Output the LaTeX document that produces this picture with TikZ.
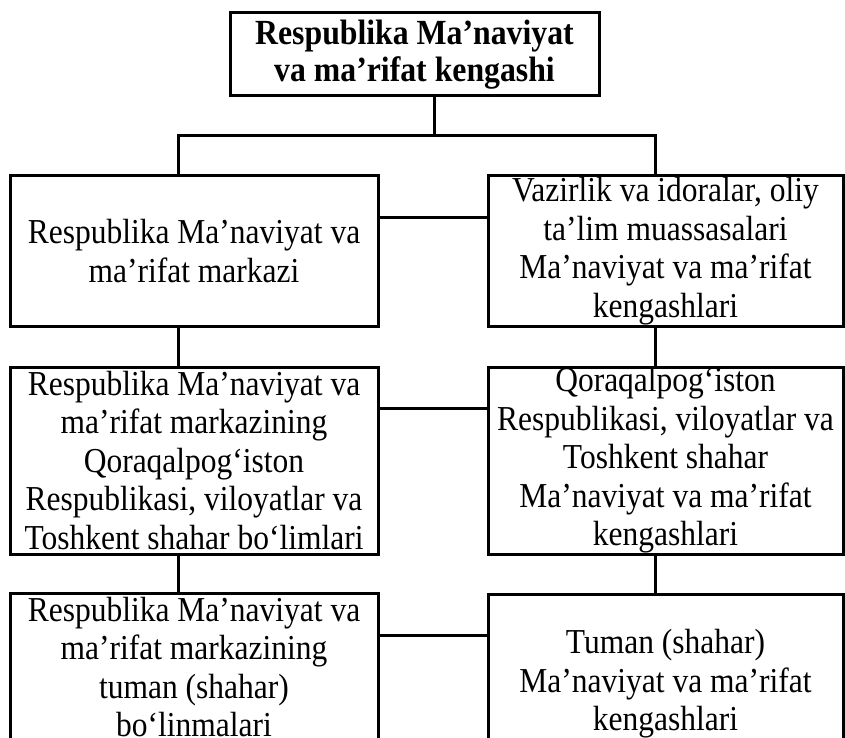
\documentclass[tikz,border=0pt]{standalone}
\usepackage{fontspec}
\setmainfont[FakeStretch=0.9]{Liberation Serif}
\begin{document}
\begin{tikzpicture}[x=1pt,y=-1pt,
  box/.style={draw=black, line width=3pt, inner sep=0pt, align=center,
    font=\fontsize{35}{38.5}\selectfont},
  topbox/.style={box, font=\fontsize{35.3}{37}\selectfont\bfseries},
  link/.style={draw=black, line width=3pt}]
\clip (0,0) rectangle (845,738);
\fill[white] (0,0) rectangle (845,738);

\node[topbox, minimum width=369pt, minimum height=83pt] (top) at (414.5,54.5)
  {Respublika Ma’naviyat\\va ma’rifat kengashi};

\node[box, minimum width=368pt, minimum height=150pt] (L1) at (194,251)
  {Respublika Ma’naviyat va\\ma’rifat markazi};
\node[box, minimum width=355pt, minimum height=150pt] (R1) at (665.5,251)
  {Vazirlik va idoralar, oliy\\ta’lim muassasalari\\Ma’naviyat va ma’rifat\\kengashlari};

\node[box, minimum width=368pt, minimum height=187pt] (L2) at (194,460.5)
  {Respublika Ma’naviyat va\\ma’rifat markazining\\Qoraqalpog‘iston\\Respublikasi, viloyatlar va\\Toshkent shahar bo‘limlari};
\node[box, minimum width=355pt, minimum height=187pt] (R2) at (665.5,460.5)
  {Qoraqalpog‘iston\\Respublikasi, viloyatlar va\\Toshkent shahar\\Ma’naviyat va ma’rifat\\kengashlari};

\node[box, minimum width=368pt, minimum height=148pt] (L3) at (194,667)
  {Respublika Ma’naviyat va\\ma’rifat markazining\\tuman (shahar)\\bo‘linmalari};
\node[box, minimum width=355pt, minimum height=180pt] (R3) at (665.5,684)
  {Tuman (shahar)\\Ma’naviyat va ma’rifat\\kengashlari};

\coordinate (bus) at (434,136);
\coordinate (jl) at (178,136);
\coordinate (jr) at (655,136);
\coordinate (h1) at (0,217);
\coordinate (h2) at (0,408);
\coordinate (h3) at (0,635);

\draw[link] (top.south -| bus) -- (bus);
\draw[link] (jl |- L1.north) -- (jl) -- (jr) -- (jr |- R1.north);

\draw[link] (jl |- L1.south) -- (jl |- L2.north);
\draw[link] (jl |- L2.south) -- (jl |- L3.north);
\draw[link] (jr |- R1.south) -- (jr |- R2.north);
\draw[link] (jr |- R2.south) -- (jr |- R3.north);

\draw[link] (L1.east |- h1) -- (R1.west |- h1);
\draw[link] (L2.east |- h2) -- (R2.west |- h2);
\draw[link] (L3.east |- h3) -- (R3.west |- h3);
\end{tikzpicture}
\end{document}
